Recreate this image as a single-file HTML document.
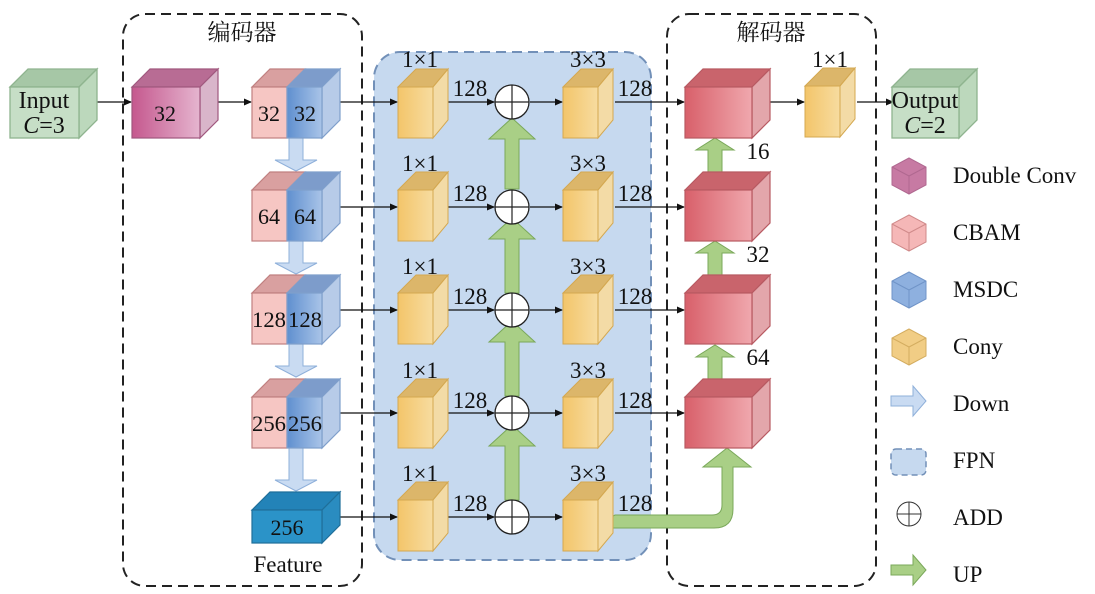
<!DOCTYPE html>
<html><head><meta charset="utf-8"><style>html,body{margin:0;padding:0;background:#fff}svg{display:block}text{font-family:"Liberation Serif","Noto Serif CJK SC",serif;fill:#111}</style></head><body>
<svg width="1095" height="594" viewBox="0 0 1095 594" xmlns="http://www.w3.org/2000/svg">
<defs>
<linearGradient id="gy" x1="0" x2="1"><stop offset="0" stop-color="#f3c56a"/><stop offset="1" stop-color="#f7dca0"/></linearGradient>
<linearGradient id="gr" x1="0" x2="1"><stop offset="0" stop-color="#d8606a"/><stop offset="1" stop-color="#f0a8ae"/></linearGradient>
<linearGradient id="gm" x1="0" x2="1"><stop offset="0" stop-color="#c5588e"/><stop offset="1" stop-color="#e5b5cf"/></linearGradient>
<linearGradient id="gb" x1="0" x2="1"><stop offset="0" stop-color="#5f8fcf"/><stop offset="1" stop-color="#a9c4e8"/></linearGradient>
<marker id="ah" markerWidth="8" markerHeight="8" refX="7" refY="4" orient="auto" markerUnits="userSpaceOnUse"><path d="M0,0.5 L8,4 L0,7.5 z" fill="#111"/></marker>
</defs>
<rect x="123" y="14" width="239" height="572" rx="22" fill="none" stroke="#222" stroke-width="2" stroke-dasharray="10,6"/>
<rect x="667" y="14" width="209" height="572" rx="22" fill="none" stroke="#222" stroke-width="2" stroke-dasharray="10,6"/>
<rect x="374" y="52" width="277" height="508" rx="26" fill="#c6d9ef" stroke="#7290b8" stroke-width="2" stroke-dasharray="10,6"/>
<text x="242" y="40" font-size="23" text-anchor="middle">编码器</text>
<text x="771" y="40" font-size="23" text-anchor="middle">解码器</text>

<g stroke="#111" stroke-width="1.3" fill="none" marker-end="url(#ah)">
<line x1="97" y1="102" x2="131" y2="102"/>
<line x1="218" y1="102" x2="251" y2="102"/>
<line x1="340" y1="102" x2="397" y2="102"/>
<line x1="340" y1="207" x2="397" y2="207"/>
<line x1="340" y1="310" x2="397" y2="310"/>
<line x1="340" y1="413" x2="397" y2="413"/>
<line x1="340" y1="517" x2="397" y2="517"/>
<line x1="448" y1="102" x2="494" y2="102"/><line x1="448" y1="207" x2="494" y2="207"/><line x1="448" y1="310" x2="494" y2="310"/><line x1="448" y1="413" x2="494" y2="413"/><line x1="448" y1="517" x2="494" y2="517"/>
<line x1="530" y1="102" x2="562" y2="102"/><line x1="530" y1="207" x2="562" y2="207"/><line x1="530" y1="310" x2="562" y2="310"/><line x1="530" y1="413" x2="562" y2="413"/><line x1="530" y1="517" x2="562" y2="517"/>
<line x1="615" y1="102" x2="684" y2="102"/><line x1="615" y1="207" x2="684" y2="207"/><line x1="615" y1="310" x2="684" y2="310"/><line x1="615" y1="413" x2="684" y2="413"/>
<line x1="770" y1="102" x2="804" y2="102"/>
<line x1="857" y1="102" x2="893" y2="102"/>
</g>

<g fill="#c9dbf2" stroke="#8fb0da" stroke-width="1">
<path d="M289,138 h14 v22 h14 l-21,11 l-21,-11 h14 z"/>
<path d="M289,241 h14 v22 h14 l-21,11 l-21,-11 h14 z"/>
<path d="M289,344 h14 v22 h14 l-21,11 l-21,-11 h14 z"/>
<path d="M289,448 h14 v32 h14 l-21,11 l-21,-11 h14 z"/>
</g>

<g fill="#a9cf86" stroke="#7aa85a" stroke-width="1">
<path d="M505,189 v-50 h-16 l23,-21 l23,21 h-16 v50 z"/>
<path d="M505,293 v-54 h-16 l23,-21 l23,21 h-16 v54 z"/>
<path d="M505,396 v-54 h-16 l23,-21 l23,21 h-16 v54 z"/>
<path d="M505,500 v-54 h-16 l23,-21 l23,21 h-16 v54 z"/>
<path d="M708,172 v-22 h-12 l19,-12 l19,12 h-12 v22 z"/>
<path d="M708,275 v-22 h-12 l19,-12 l19,12 h-12 v22 z"/>
<path d="M708,379 v-22 h-12 l19,-12 l19,12 h-12 v22 z"/>
<path d="M615,515 h97 q10,0 10,-10 v-38 h-19 l24,-19 l24,19 h-18 v42 q0,19 -19,19 h-123 z"/>
</g>
<g fill="#fff" stroke="#222" stroke-width="1.3">
<circle cx="512" cy="102" r="17"/><circle cx="512" cy="207" r="17"/><circle cx="512" cy="310" r="17"/><circle cx="512" cy="413" r="17"/><circle cx="512" cy="517" r="17"/>
</g>
<g stroke="#222" stroke-width="1.2">
<path d="M495,102h34M512,85v34M495,207h34M512,190v34M495,310h34M512,293v34M495,413h34M512,396v34M495,517h34M512,500v34"/>
</g>

<g stroke="#8fb48f" stroke-width="1.3">
<path d="M10,87 L28,69 L97,69 L79,87 z" fill="#a6c7a6"/><path d="M79,87 L97,69 L97,120 L79,138 z" fill="#bcd8bc"/><rect x="10" y="87" width="69" height="51" fill="#c6dec6"/>
<path d="M892,87 L910,69 L977,69 L959,87 z" fill="#a6c7a6"/><path d="M959,87 L977,69 L977,120 L959,138 z" fill="#bcd8bc"/><rect x="892" y="87" width="67" height="51" fill="#c6dec6"/>
</g>
<text x="44" y="108" font-size="24" text-anchor="middle">Input</text>
<text x="44" y="133" font-size="24" text-anchor="middle"><tspan font-style="italic">C</tspan>=3</text>
<text x="925" y="108" font-size="24" text-anchor="middle">Output</text>
<text x="925" y="133" font-size="24" text-anchor="middle"><tspan font-style="italic">C</tspan>=2</text>
<g stroke="#a0587e" stroke-width="1.2">
<path d="M132,87 L150,69 L218,69 L200,87 z" fill="#b86c94"/><path d="M200,87 L218,69 L218,120 L200,138 z" fill="#d9b5ca"/><rect x="132" y="87" width="68" height="51" fill="url(#gm)"/>
</g>
<text x="165" y="121" font-size="22" text-anchor="middle">32</text>
<g stroke-width="1.2">
<g id="cm">
<path d="M252,87 L270,69 L305,69 L287,87 z" fill="#d9a0a0" stroke="#c08080"/><rect x="252" y="87" width="35" height="51" fill="#f6c6c3" stroke="#c08080"/>
<path d="M287,87 L305,69 L340,69 L322,87 z" fill="#7d9ccb" stroke="#7f9fcb"/><path d="M322,87 L340,69 L340,120 L322,138 z" fill="#b7cbe8" stroke="#7f9fcb"/><rect x="287" y="87" width="35" height="51" fill="url(#gb)" stroke="#7f9fcb"/>
</g>
<use href="#cm" y="103"/><use href="#cm" y="206"/><use href="#cm" y="310"/>
</g>
<g font-size="22">
<text x="269" y="121" text-anchor="middle">32</text><text x="305" y="121" text-anchor="middle">32</text>
<text x="269" y="224" text-anchor="middle">64</text><text x="305" y="224" text-anchor="middle">64</text>
<text x="269" y="327" text-anchor="middle" textLength="34" lengthAdjust="spacingAndGlyphs">128</text><text x="305" y="327" text-anchor="middle" textLength="34" lengthAdjust="spacingAndGlyphs">128</text>
<text x="269" y="431" text-anchor="middle" textLength="34" lengthAdjust="spacingAndGlyphs">256</text><text x="305" y="431" text-anchor="middle" textLength="34" lengthAdjust="spacingAndGlyphs">256</text>
</g>
<g stroke="#1f6f9a" stroke-width="1.2">
<path d="M252,510 L270,492 L340,492 L322,510 z" fill="#2383b8"/><path d="M322,510 L340,492 L340,525 L322,543 z" fill="#2a8cc0"/><rect x="252" y="510" width="70" height="33" fill="#2b93c8"/>
</g>
<text x="287" y="535" font-size="22" text-anchor="middle">256</text>
<text x="288" y="572" font-size="23" text-anchor="middle">Feature</text>

<g stroke="#d4a850" stroke-width="1">
<g id="yc"><path d="M398,87 L416,69 L448,69 L433,87 z" fill="#dcb66a"/><path d="M433,87 L448,69 L448,120 L433,138 z" fill="#f3dba6"/><rect x="398" y="87" width="35" height="51" fill="url(#gy)"/></g>
<use href="#yc" y="103"/><use href="#yc" y="206"/><use href="#yc" y="310"/><use href="#yc" y="413"/>
<use href="#yc" x="165"/><use href="#yc" x="165" y="103"/><use href="#yc" x="165" y="206"/><use href="#yc" x="165" y="310"/><use href="#yc" x="165" y="413"/>
<use href="#yc" x="407" y="-1"/>
</g>
<g font-size="23">
<text x="420" y="67" text-anchor="middle">1×1</text><text x="420" y="171" text-anchor="middle">1×1</text><text x="420" y="274" text-anchor="middle">1×1</text><text x="420" y="378" text-anchor="middle">1×1</text><text x="420" y="481" text-anchor="middle">1×1</text>
<text x="588" y="67" text-anchor="middle">3×3</text><text x="588" y="171" text-anchor="middle">3×3</text><text x="588" y="274" text-anchor="middle">3×3</text><text x="588" y="378" text-anchor="middle">3×3</text><text x="588" y="481" text-anchor="middle">3×3</text>
<text x="830" y="67" text-anchor="middle">1×1</text>
<text x="470" y="96" text-anchor="middle">128</text><text x="470" y="201" text-anchor="middle">128</text><text x="470" y="304" text-anchor="middle">128</text><text x="470" y="408" text-anchor="middle">128</text><text x="470" y="511" text-anchor="middle">128</text>
<text x="635" y="96" text-anchor="middle">128</text><text x="635" y="201" text-anchor="middle">128</text><text x="635" y="304" text-anchor="middle">128</text><text x="635" y="408" text-anchor="middle">128</text><text x="635" y="511" text-anchor="middle">128</text>
<text x="758" y="159" text-anchor="middle">16</text><text x="758" y="262" text-anchor="middle">32</text><text x="758" y="365" text-anchor="middle">64</text>
</g>
<g stroke="#b85a62" stroke-width="1.2">
<g id="rc"><path d="M685,87 L703,69 L770,69 L752,87 z" fill="#c9646c"/><path d="M752,87 L770,69 L770,120 L752,138 z" fill="#e3a6ab"/><rect x="685" y="87" width="67" height="51" fill="url(#gr)"/></g>
<use href="#rc" y="103"/><use href="#rc" y="206"/><use href="#rc" y="310"/>
</g>

<g stroke-width="1">
<path d="M909,158 L926,167 L926,185 L909,194 L892,185 L892,167 z" fill="#c77aa3" stroke="#b06890"/><path d="M892,167 L909,176 L926,167 M909,176 V194" fill="none" stroke="#b06890"/>
<path d="M909,215 L926,224 L926,242 L909,251 L892,242 L892,224 z" fill="#f5b7b7" stroke="#d08a8a"/><path d="M892,224 L909,233 L926,224 M909,233 V251" fill="none" stroke="#d08a8a"/>
<path d="M909,272 L926,281 L926,299 L909,308 L892,299 L892,281 z" fill="#8eb0df" stroke="#7094c8"/><path d="M892,281 L909,290 L926,281 M909,290 V308" fill="none" stroke="#7094c8"/>
<path d="M909,329 L926,338 L926,356 L909,365 L892,356 L892,338 z" fill="#f1cd85" stroke="#d4ad60"/><path d="M892,338 L909,347 L926,338 M909,347 V365" fill="none" stroke="#d4ad60"/>
<path d="M891,396 h22 v-10 l13,15 l-13,15 v-10 h-22 z" fill="#c9dbf2" stroke="#8fb0da"/>
<rect x="891" y="449" width="35" height="26" rx="5" fill="#c6d9ef" stroke="#7290b8" stroke-dasharray="6,4" stroke-width="1.5"/>
<circle cx="909" cy="514" r="12" fill="#fff" stroke="#333"/><path d="M897,514h24M909,502v24" stroke="#333"/>
<path d="M891,565 h22 v-10 l13,15 l-13,15 v-10 h-22 z" fill="#a9cf86" stroke="#7aa85a"/>
</g>
<g font-size="23">
<text x="953" y="183">Double Conv</text><text x="953" y="240">CBAM</text><text x="953" y="297">MSDC</text><text x="953" y="354">Cony</text><text x="953" y="411">Down</text><text x="953" y="468">FPN</text><text x="953" y="525">ADD</text><text x="953" y="582">UP</text>
</g>
</svg>
</body></html>
